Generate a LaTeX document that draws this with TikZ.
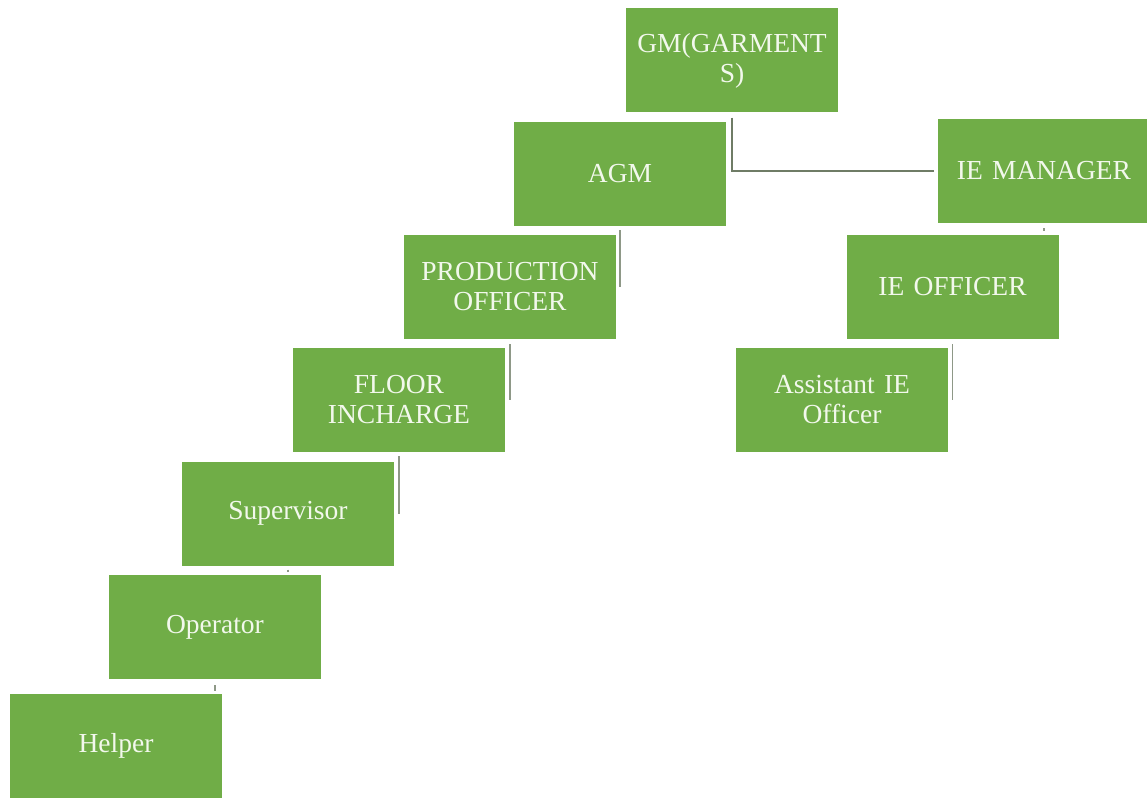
\documentclass[tikz,border=0pt]{standalone}
\usepackage{fontspec}
\setmainfont{Liberation Serif}
\definecolor{boxgreen}{HTML}{70AD47}
\definecolor{boxtext}{HTML}{F2F8EC}
\definecolor{linegray}{HTML}{6F7C66}
\definecolor{linelight}{HTML}{8E9887}
\begin{document}
\begin{tikzpicture}[x=1pt,y=-1pt,
  box/.style={fill=boxgreen, draw=none, minimum width=212pt, minimum height=104pt,
    inner sep=0pt, text=boxtext, align=center, text width=205pt,
    font=\fontsize{27.5}{30}\selectfont},
  mainline/.style={draw=linegray, line width=1.8pt},
  subline/.style={draw=linelight, line width=1.3pt}]
\useasboundingbox (0,0) rectangle (1147,797);
\fill[white] (0,0) rectangle (1147,797);
% nodes
\node[box] (gm)   at (732,60.5)  {GM(GARMENT\\S)};
\node[box] (agm)  at (620,174)   {AGM};
\node[box] (iem)  at (1044,171)  {IE MANAGER};
\node[box] (prod) at (510,287)   {PRODUCTION\\OFFICER};
\node[box] (ieo)  at (952.5,287) {IE OFFICER};
\node[box] (floor) at (399,400)  {FLOOR\\INCHARGE};
\node[box] (aie)  at (842,400)   {Assistant IE\\Officer};
\node[box] (sup)  at (288,513.5) {Supervisor};
\node[box] (op)   at (215,627)   {Operator};
\node[box] (help) at (116,746)   {Helper};
% connectors
\draw[mainline] ([yshift=-5pt]gm.south) |- ([xshift=-4pt]iem.west);
\draw[subline] ([yshift=-4pt]agm.south) -- (agm.south |- prod.east);
\draw[subline] ([yshift=-5pt]prod.south) -- (prod.south |- floor.east);
\draw[subline] ([yshift=-4pt]floor.south) -- (floor.south |- sup.east);
\draw[subline] ([yshift=-5pt]ieo.south) -- (ieo.south |- aie.east);
\draw[subline] ([yshift=-4pt]sup.south) -- ([yshift=-6pt]sup.south);
\draw[subline] ([yshift=-6pt]op.south) -- ([yshift=-12pt]op.south);
\draw[subline] ([yshift=-5pt]iem.south) -- ([yshift=-8pt]iem.south);
\end{tikzpicture}
\end{document}
